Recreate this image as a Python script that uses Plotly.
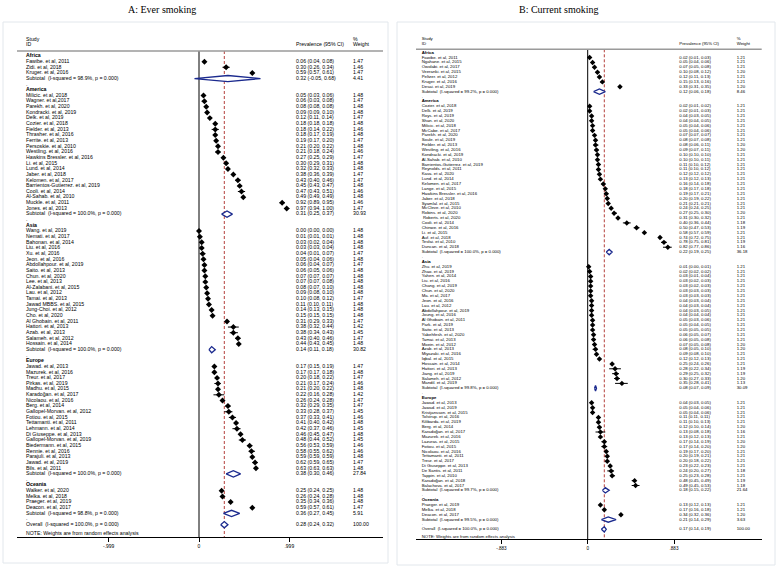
import plotly.graph_objects as go

W, H = 778, 568

# ------------------------------------------------------------------
# DATA  A: Ever smoking
# ------------------------------------------------------------------
regions = ["Africa", "America", "Asia", "Europe", "Oceania"]

ever_africa_study = ["Fawibe. et al, 2011", "Zidi. et al, 2018", "Kruger. et al, 2016"]
ever_africa_est = [0.06, 0.30, 0.59]
ever_africa_lo = [0.04, 0.26, 0.57]
ever_africa_hi = [0.08, 0.34, 0.61]
ever_africa_wt = [1.47, 1.46, 1.47]

ever_america_study = ["Milicic. et al, 2018", "Wagner. et al,2017", "Parekh. et al, 2020", "Kondracki. et al, 2019",
                      "Delk. et al, 2019", "Cozier. et al, 2018", "Fielder. et al, 2013", "Thrasher. et al, 2016",
                      "Ferrite. et al, 2013", "Persoskie. et al, 2010", "Westling. et al, 2016",
                      "Hawkins Bressler. et al, 2016", "Li. et al, 2015", "Lund. et al, 2014", "Jaber. et al, 2018",
                      "Kelomen. et al, 2017", "Barrientos-Gutierrez. et al, 2019", "Cooli. et al, 2014",
                      "Al-Sahab. et al, 2010", "Muckle. et al, 2011", "Jones. et al, 2013"]
ever_america_est = [0.05, 0.06, 0.08, 0.09, 0.12, 0.18, 0.18, 0.18, 0.19, 0.21, 0.21,
                    0.27, 0.30, 0.32, 0.38, 0.43, 0.45, 0.47, 0.49, 0.92, 0.97]
ever_america_lo = [0.03, 0.03, 0.08, 0.09, 0.11, 0.18, 0.14, 0.17, 0.17, 0.20, 0.18,
                   0.25, 0.29, 0.32, 0.36, 0.40, 0.43, 0.43, 0.49, 0.89, 0.94]
ever_america_hi = [0.06, 0.08, 0.08, 0.10, 0.14, 0.18, 0.22, 0.19, 0.20, 0.22, 0.24,
                   0.29, 0.31, 0.33, 0.39, 0.46, 0.47, 0.51, 0.49, 0.95, 1.00]
ever_america_wt = [1.48, 1.47, 1.48, 1.48, 1.47, 1.48, 1.46, 1.48, 1.47, 1.48, 1.46,
                   1.47, 1.48, 1.48, 1.47, 1.47, 1.48, 1.46, 1.48, 1.46, 1.47]

ever_asia_study = ["Wang. et al, 2019", "Nemati. et al, 2017", "Bahonan. et al, 2014", "Liu. et al, 2016",
                   "Xu. et al, 2016", "Jeon. et al, 2016", "Abdollahpour. et al, 2019", "Saito. et al, 2013",
                   "Chun. et al, 2020", "Lee. et al, 2013", "Al-Zalabani. et al, 2015", "Lau. et al, 2012",
                   "Tamai. et al, 2013", "Jawad MBBS. et al, 2015", "Jung-Choi. et al, 2012", "Cho. et al, 2020",
                   "Al Ghobain. et al, 2011", "Hattori. et al, 2013", "Azab. et al, 2013", "Salameh. et al, 2012",
                   "Hossain. et al, 2014"]
ever_asia_est = [0.00, 0.01, 0.03, 0.03, 0.04, 0.05, 0.06, 0.06, 0.07, 0.07, 0.08,
                 0.09, 0.10, 0.11, 0.14, 0.15, 0.31, 0.38, 0.38, 0.43, 0.44]
ever_asia_lo = [0.00, 0.01, 0.02, 0.03, 0.01, 0.04, 0.04, 0.05, 0.07, 0.07, 0.07,
                0.08, 0.08, 0.10, 0.13, 0.15, 0.29, 0.32, 0.34, 0.40, 0.43]
ever_asia_hi = [0.00, 0.01, 0.04, 0.04, 0.07, 0.06, 0.07, 0.06, 0.07, 0.08, 0.10,
                0.10, 0.12, 0.11, 0.15, 0.15, 0.33, 0.44, 0.43, 0.46, 0.45]
ever_asia_wt = [1.48, 1.48, 1.48, 1.48, 1.47, 1.48, 1.47, 1.48, 1.48, 1.48, 1.48,
                1.48, 1.47, 1.48, 1.48, 1.48, 1.47, 1.42, 1.45, 1.47, 1.48]

ever_europe_study = ["Jawad. et al, 2013", "Mazurek. et al, 2016", "Treur. et al, 2017", "Pirkas. et al, 2019",
                     "Madhu. et al, 2015", "Karadoğan. et al, 2017", "Nicolaou. et al, 2016", "Berg. et al, 2014",
                     "Gallopel-Morvan. et al, 2012", "Fotiou. et al, 2015", "Tettamanti. et al, 2011",
                     "Lehmann. et al, 2014", "Di Giuseppe. et al, 2013", "Gallopel-Morvan. et al, 2019",
                     "Biedermann. et al, 2015", "Rennie. et al, 2016", "Parajuli. et al, 2013",
                     "Jawad. et al, 2019", "Bils. et al, 2011"]
ever_europe_est = [0.17, 0.17, 0.20, 0.21, 0.21, 0.22, 0.26, 0.32, 0.33, 0.37, 0.41,
                   0.42, 0.46, 0.48, 0.56, 0.58, 0.59, 0.62, 0.63]
ever_europe_lo = [0.15, 0.17, 0.18, 0.17, 0.20, 0.16, 0.24, 0.29, 0.28, 0.33, 0.40,
                  0.37, 0.45, 0.44, 0.53, 0.55, 0.59, 0.59, 0.63]
ever_europe_hi = [0.19, 0.18, 0.22, 0.24, 0.22, 0.28, 0.28, 0.35, 0.37, 0.41, 0.42,
                  0.46, 0.47, 0.52, 0.59, 0.62, 0.59, 0.65, 0.63]
ever_europe_wt = [1.47, 1.48, 1.47, 1.46, 1.48, 1.42, 1.47, 1.47, 1.45, 1.46, 1.48,
                  1.45, 1.48, 1.45, 1.46, 1.46, 1.48, 1.47, 1.48]

ever_oceania_study = ["Walker. et al, 2020", "Melka. et al, 2018", "Praeger. et al, 2019", "Deacon. et al, 2017"]
ever_oceania_est = [0.25, 0.26, 0.35, 0.59]
ever_oceania_lo = [0.24, 0.24, 0.34, 0.57]
ever_oceania_hi = [0.25, 0.28, 0.36, 0.61]
ever_oceania_wt = [1.48, 1.48, 1.48, 1.47]

ever_sub_i2 = [98.9, 100.0, 100.0, 100.0, 98.8]
ever_sub_est = [0.32, 0.31, 0.14, 0.38, 0.36]
ever_sub_lo = [-0.05, 0.25, 0.11, 0.30, 0.27]
ever_sub_hi = [0.68, 0.37, 0.18, 0.46, 0.45]
ever_sub_wt = [4.41, 30.93, 30.82, 27.84, 5.91]
ever_overall = [0.28, 0.24, 0.32]   # est, lo, hi
ever_overall_i2 = 100.0
ever_ticks = [-0.999, 0, 0.999]
ever_ticktext = ["-.999", "0", ".999"]

# ------------------------------------------------------------------
# DATA  B: Current smoking
# ------------------------------------------------------------------
curr_africa_study = ["Fawibe. et al, 2011", "Ngahane. et al, 2015", "Owolabi. et al, 2017", "Veeranki. et al, 2015",
                     "Peltzer. et al, 2012", "Kruger. et al, 2016", "Desai. et al, 2019"]
curr_africa_est = [0.02, 0.05, 0.07, 0.10, 0.12, 0.15, 0.33]
curr_africa_lo = [0.01, 0.04, 0.05, 0.08, 0.11, 0.13, 0.31]
curr_africa_hi = [0.03, 0.06, 0.08, 0.12, 0.13, 0.16, 0.35]
curr_africa_wt = [1.21, 1.21, 1.21, 1.20, 1.21, 1.21, 1.20]

curr_america_study = ["Cozier. et al, 2018", "Delk. et al, 2019", "Roys. et al, 2019", "Shan. et al, 2020",
                      "Milicic. et al, 2018", "McCabe. et al, 2017", "Parekh. et al, 2020", "Soule. et al, 2019",
                      "Fielder. et al, 2013", "Westling. et al, 2016", "Kondracki. et al, 2019",
                      "Al-Sahab. et al, 2010", "Barrientos-Gutierrez. et al, 2019", "Reynolds. et al, 2011",
                      "Kava. et al, 2020", "Lund. et al, 2014", "Kelomen. et al, 2017", "Lange. et al, 2015",
                      "Hawkins Bressler. et al, 2016", "Jaber. et al, 2018", "Syamlal. et al, 2015",
                      "McCleve. et al, 2010", "Robins. et al, 2020", " Roberts. et al, 2020", "Cooli. et al, 2014",
                      "Chinwe. et al, 2016", "Li. et al, 2015", "Auf. et al, 2018", "Tesfai. et al, 2010",
                      "Duncan. et al, 2018"]
curr_america_est = [0.02, 0.02, 0.04, 0.04, 0.05, 0.05, 0.07, 0.08, 0.08, 0.09, 0.10, 0.10, 0.11, 0.11, 0.12,
                    0.13, 0.16, 0.18, 0.19, 0.20, 0.21, 0.24, 0.27, 0.31, 0.40, 0.50, 0.58, 0.74, 0.78, 0.82]
curr_america_lo = [0.01, 0.01, 0.03, 0.04, 0.04, 0.04, 0.07, 0.07, 0.06, 0.07, 0.10, 0.10, 0.10, 0.10, 0.12,
                   0.12, 0.14, 0.17, 0.17, 0.19, 0.21, 0.24, 0.25, 0.30, 0.36, 0.47, 0.57, 0.72, 0.75, 0.77]
curr_america_hi = [0.02, 0.03, 0.05, 0.05, 0.06, 0.06, 0.07, 0.08, 0.11, 0.11, 0.10, 0.11, 0.12, 0.12, 0.12,
                   0.13, 0.18, 0.18, 0.21, 0.22, 0.21, 0.25, 0.30, 0.32, 0.44, 0.53, 0.59, 0.75, 0.81, 0.86]
curr_america_wt = [1.21, 1.21, 1.21, 1.21, 1.21, 1.21, 1.21, 1.21, 1.20, 1.20, 1.21, 1.21, 1.21, 1.21, 1.21,
                   1.21, 1.21, 1.21, 1.21, 1.21, 1.21, 1.21, 1.20, 1.21, 1.18, 1.19, 1.21, 1.21, 1.19, 1.16]

curr_asia_study = ["Zhu. et al, 2019", "Zhao. et al, 2019", "Yahen. et al, 2014", "Liu. et al, 2016",
                   "Chang. et al, 2019", "Chun. et al, 2020", "Ma. et al, 2017", "Jeon. et al, 2016",
                   "Lau. et al, 2012", "Abdollahpour. et al, 2019", "Joung. et al, 2016", "Al Ghobain. et al, 2011",
                   "Park. et al, 2019", "Saito. et al, 2013", "Yabehfesh. et al, 2020", "Tamai. et al, 2013",
                   "Moein. et al, 2012", "Azab. et al, 2013", "Miyazaki. et al, 2016", "Iqbal. et al, 2015",
                   "Hossain. et al, 2014", "Hattori. et al, 2013", "Jiang. et al, 2019", "Salameh. et al, 2012",
                   "Mandil. et al, 2019"]
curr_asia_est = [0.01, 0.02, 0.03, 0.03, 0.03, 0.03, 0.03, 0.04, 0.04, 0.04, 0.04, 0.05, 0.05, 0.05, 0.06,
                 0.06, 0.07, 0.08, 0.09, 0.12, 0.25, 0.28, 0.29, 0.30, 0.35]
curr_asia_lo = [0.00, 0.02, 0.01, 0.02, 0.02, 0.03, 0.03, 0.03, 0.03, 0.03, 0.04, 0.03, 0.04, 0.05, 0.05,
                0.05, 0.05, 0.05, 0.08, 0.12, 0.24, 0.22, 0.25, 0.27, 0.28]
curr_asia_hi = [0.01, 0.02, 0.04, 0.03, 0.03, 0.03, 0.03, 0.04, 0.04, 0.05, 0.04, 0.06, 0.05, 0.05, 0.07,
                0.08, 0.08, 0.10, 0.10, 0.13, 0.26, 0.34, 0.32, 0.33, 0.41]
curr_asia_wt = [1.21, 1.21, 1.21, 1.21, 1.21, 1.21, 1.21, 1.21, 1.21, 1.21, 1.21, 1.21, 1.21, 1.21, 1.21,
                1.21, 1.20, 1.20, 1.21, 1.21, 1.21, 1.19, 1.19, 1.20, 1.13]

curr_europe_study = ["Jawad. et al, 2013", "Jawad. et al, 2019", "Kristjansson. et al, 2015", "Tolstrup. et al, 2016",
                     "Kilibarda. et al, 2019", "Berg. et al, 2014", "Karadoğan. et al, 2017", "Mazurek. et al, 2016",
                     "Lazuras. et al, 2015", "Fotiou. et al, 2015", "Nicolaou. et al, 2016",
                     "Tettamanti. et al, 2011", "Treur. et al, 2017", "Di Giuseppe. et al, 2013",
                     "De Santis. et al, 2011", "Tappin. et al, 2010", "Karadoğan. et al, 2018",
                     "Balachova. et al, 2017"]
curr_europe_est = [0.04, 0.05, 0.05, 0.11, 0.11, 0.12, 0.13, 0.13, 0.17, 0.17, 0.19, 0.20, 0.20, 0.23, 0.24,
                   0.25, 0.48, 0.49]
curr_europe_lo = [0.03, 0.04, 0.04, 0.11, 0.10, 0.10, 0.08, 0.12, 0.14, 0.14, 0.17, 0.19, 0.18, 0.22, 0.20,
                  0.23, 0.45, 0.45]
curr_europe_hi = [0.05, 0.06, 0.06, 0.11, 0.13, 0.14, 0.18, 0.13, 0.19, 0.20, 0.20, 0.21, 0.22, 0.23, 0.27,
                  0.28, 0.49, 0.53]
curr_europe_wt = [1.21, 1.21, 1.21, 1.21, 1.21, 1.20, 1.16, 1.21, 1.20, 1.20, 1.21, 1.21, 1.21, 1.21, 1.18,
                  1.21, 1.19, 1.18]

curr_oceania_study = ["Praeger. et al, 2019", "Melka. et al, 2018", "Deacon. et al, 2017"]
curr_oceania_est = [0.13, 0.17, 0.34]
curr_oceania_lo = [0.12, 0.16, 0.32]
curr_oceania_hi = [0.13, 0.18, 0.36]
curr_oceania_wt = [1.21, 1.21, 1.20]

curr_sub_i2 = [99.2, 100.0, 99.8, 99.7, 99.5]
curr_sub_est = [0.12, 0.22, 0.08, 0.18, 0.21]
curr_sub_lo = [0.06, 0.19, 0.07, 0.15, 0.14]
curr_sub_hi = [0.18, 0.25, 0.09, 0.22, 0.29]
curr_sub_wt = [8.46, 36.18, 30.09, 21.64, 3.63]
curr_overall = [0.17, 0.14, 0.19]
curr_overall_i2 = 100.0
curr_ticks = [-0.883, 0, 0.883]
curr_ticktext = ["-.883", "0", ".883"]

# ------------------------------------------------------------------
FONT = "Liberation Sans Narrow, Liberation Sans, Arial, sans-serif"
NAVY = "#1b2a8e"
RED = "#b5403c"

fig = go.Figure()
shapes = []


def build_panel(n, title, title_cx, groups, sub, overall, overall_i2, ticks, ticktext, cfg):
    xa = "x" if n == 1 else "x%d" % n
    ya = "y" if n == 1 else "y%d" % n
    ppu = cfg["tick_px"] / ticks[2]
    dx = lambda p: (p - cfg["zero_px"]) / ppu
    dy = lambda p: (p - cfg["row0_px"]) / cfg["step"]

    labels, lab_rows, ci_txt, wt_txt, txt_rows = [], [], [], [], []
    mx, my, lx, ly, dxs, dys = [], [], [], [], [], []
    r = 0
    for gi, (name, st, es, lo, hi, wt) in enumerate(groups):
        labels.append("<b>%s</b>" % name); lab_rows.append(r); r += 1
        for s, e, l, h, w in zip(st, es, lo, hi, wt):
            labels.append(s); lab_rows.append(r)
            ci_txt.append("%.2f (%.2f, %.2f)" % (e, l, h)); wt_txt.append("%.2f" % w); txt_rows.append(r)
            mx.append(e); my.append(r)
            lx += [l, h, None]; ly += [r, r, None]
            r += 1
        i2, se, sl, sh, sw = sub[0][gi], sub[1][gi], sub[2][gi], sub[3][gi], sub[4][gi]
        labels.append("Subtotal  (I-squared = %.1f%%, p = 0.000)" % i2); lab_rows.append(r)
        ci_txt.append("%.2f (%.2f, %.2f)" % (se, sl, sh)); wt_txt.append("%.2f" % sw); txt_rows.append(r)
        hh = 0.55
        dxs += [sl, se, sh, se, sl, None]; dys += [r, r - hh, r, r + hh, r, None]
        r += 1
        labels.append("."); lab_rows.append(r); r += 1
    oe, ol, oh = overall
    labels.append("Overall  (I-squared = %.1f%%, p = 0.000)" % overall_i2); lab_rows.append(r)
    ci_txt.append("%.2f (%.2f, %.2f)" % (oe, ol, oh)); wt_txt.append("100.00"); txt_rows.append(r)
    dxs += [ol, oe, oh, oe, ol, None]; dys += [r, r - 0.55, r, r + 0.55, r, None]
    labels.append("NOTE: Weights are from random effects analysis"); lab_rows.append(r + 1.6)

    bottom = dy(cfg["bot_px"])
    sep = dy(cfg["sep_px"])
    fs = cfg["fs"]
    tf = dict(family=FONT, size=fs, color="black")

    # null line and overall line
    fig.add_trace(go.Scatter(x=[0, 0], y=[sep, bottom], mode="lines", line=dict(color="black", width=1),
                             xaxis=xa, yaxis=ya, hoverinfo="skip", showlegend=False))
    fig.add_trace(go.Scatter(x=[oe, oe], y=[sep, bottom], mode="lines",
                             line=dict(color=RED, width=1, dash="3px,2px"),
                             xaxis=xa, yaxis=ya, hoverinfo="skip", showlegend=False))
    # CIs
    fig.add_trace(go.Scatter(x=lx, y=ly, mode="lines", line=dict(color="black", width=1),
                             xaxis=xa, yaxis=ya, hoverinfo="skip", showlegend=False))
    fig.add_trace(go.Scatter(x=mx, y=my, mode="markers",
                             marker=dict(symbol="diamond", size=cfg["ms"], color="black"),
                             xaxis=xa, yaxis=ya, hoverinfo="skip", showlegend=False))
    # diamonds
    fig.add_trace(go.Scatter(x=dxs, y=dys, mode="lines", fill="toself", fillcolor="white",
                             line=dict(color=NAVY, width=1.3), xaxis=xa, yaxis=ya,
                             hoverinfo="skip", showlegend=False))
    # texts
    fig.add_trace(go.Scatter(x=[dx(cfg["lab_px"])] * len(labels), y=lab_rows, mode="text", text=labels,
                             textposition="middle right", textfont=tf, xaxis=xa, yaxis=ya,
                             hoverinfo="skip", showlegend=False, cliponaxis=False))
    fig.add_trace(go.Scatter(x=[dx(cfg["ci_px"])] * len(ci_txt), y=txt_rows, mode="text", text=ci_txt,
                             textposition="middle right", textfont=tf, xaxis=xa, yaxis=ya,
                             hoverinfo="skip", showlegend=False, cliponaxis=False))
    fig.add_trace(go.Scatter(x=[dx(cfg["wt_px"])] * len(wt_txt), y=txt_rows, mode="text", text=wt_txt,
                             textposition="middle right", textfont=tf, xaxis=xa, yaxis=ya,
                             hoverinfo="skip", showlegend=False, cliponaxis=False))
    # header
    hr1, hr2 = dy(cfg["h1_px"]), dy(cfg["h2_px"])
    fig.add_trace(go.Scatter(x=[dx(cfg["lab_px"]), dx(cfg["lab_px"]), dx(cfg["ci_px"]), dx(cfg["wt_px"]), dx(cfg["wt_px"])],
                             y=[hr1, hr2, hr2, hr1, hr2], mode="text",
                             text=["Study", "ID", "Prevalence (95% CI)", "%", "Weight"],
                             textposition="middle right", textfont=tf, xaxis=xa, yaxis=ya,
                             hoverinfo="skip", showlegend=False, cliponaxis=False))
    shapes.append(dict(type="line", xref=xa + " domain", yref=ya, x0=0, x1=1, y0=sep, y1=sep,
                       line=dict(color="#9a9a9a", width=1.5)))
    # panel frame and title
    bx0, by0, bx1, by1 = cfg["box"]
    shapes.append(dict(type="rect", xref="paper", yref="paper", x0=bx0 / W, x1=bx1 / W,
                       y0=1 - by1 / H, y1=1 - by0 / H, line=dict(color="#e2e7ec", width=1)))
    fig.add_annotation(x=title_cx / W, y=1 - cfg["title_py"] / H, xref="paper", yref="paper",
                       text=title, showarrow=False, xanchor="center", yanchor="middle",
                       font=dict(family="Liberation Serif, Times New Roman, serif", size=10, color="black"))

    x0p, x1p = cfg["ax_px"]
    fig.update_layout(**{
        ("xaxis" if n == 1 else "xaxis%d" % n): dict(
            domain=[x0p / W, x1p / W], range=[dx(x0p), dx(x1p)], anchor=ya,
            tickvals=ticks, ticktext=ticktext, ticks="outside", ticklen=4, tickwidth=1, tickcolor="black",
            showline=True, linecolor="black", linewidth=1, showgrid=False, zeroline=False,
            tickfont=dict(family=FONT, size=cfg["tfs"], color="black"), fixedrange=True),
        ("yaxis" if n == 1 else "yaxis%d" % n): dict(
            domain=[1 - cfg["bot_px"] / H, 1 - cfg["top_px"] / H],
            range=[bottom, dy(cfg["top_px"])], anchor=xa, visible=False, fixedrange=True),
    })


def grp(prefix):
    g = globals()
    out = []
    for reg in regions:
        k = prefix + "_" + reg.lower()
        out.append((reg, g[k + "_study"], g[k + "_est"], g[k + "_lo"], g[k + "_hi"], g[k + "_wt"]))
    return out


cfg_a = dict(zero_px=199, tick_px=90.3, row0_px=56, step=5.647, bot_px=537, top_px=26, sep_px=51,
             h1_px=39.5, h2_px=44.5, lab_px=26, ci_px=296, wt_px=353, ax_px=(17, 383),
             fs=5.2, tfs=5, ms=4.6, box=(3, 22, 388, 563), title_py=10)
cfg_b = dict(zero_px=587.7, tick_px=86.3, row0_px=52.7, step=4.863, bot_px=539, top_px=26, sep_px=49.3,
             h1_px=39.3, h2_px=44.3, lab_px=421.7, ci_px=679.3, wt_px=736.7, ax_px=(416, 761.7),
             fs=4.3, tfs=4.6, ms=4.2, box=(397, 22, 775, 565), title_py=10)

build_panel(1, "A: Ever smoking", 161.5, grp("ever"),
            (ever_sub_i2, ever_sub_est, ever_sub_lo, ever_sub_hi, ever_sub_wt),
            ever_overall, ever_overall_i2, ever_ticks, ever_ticktext, cfg_a)
build_panel(2, "B: Current smoking", 558.5, grp("curr"),
            (curr_sub_i2, curr_sub_est, curr_sub_lo, curr_sub_hi, curr_sub_wt),
            curr_overall, curr_overall_i2, curr_ticks, curr_ticktext, cfg_b)

fig.update_layout(width=W, height=H, margin=dict(l=0, r=0, t=0, b=0),
                  paper_bgcolor="white", plot_bgcolor="rgba(0,0,0,0)",
                  showlegend=False, shapes=shapes)
fig.write_html("out.html", config={"displayModeBar": False, "staticPlot": True},
               post_script="document.body.style.margin='0';document.body.style.overflow='hidden';")
